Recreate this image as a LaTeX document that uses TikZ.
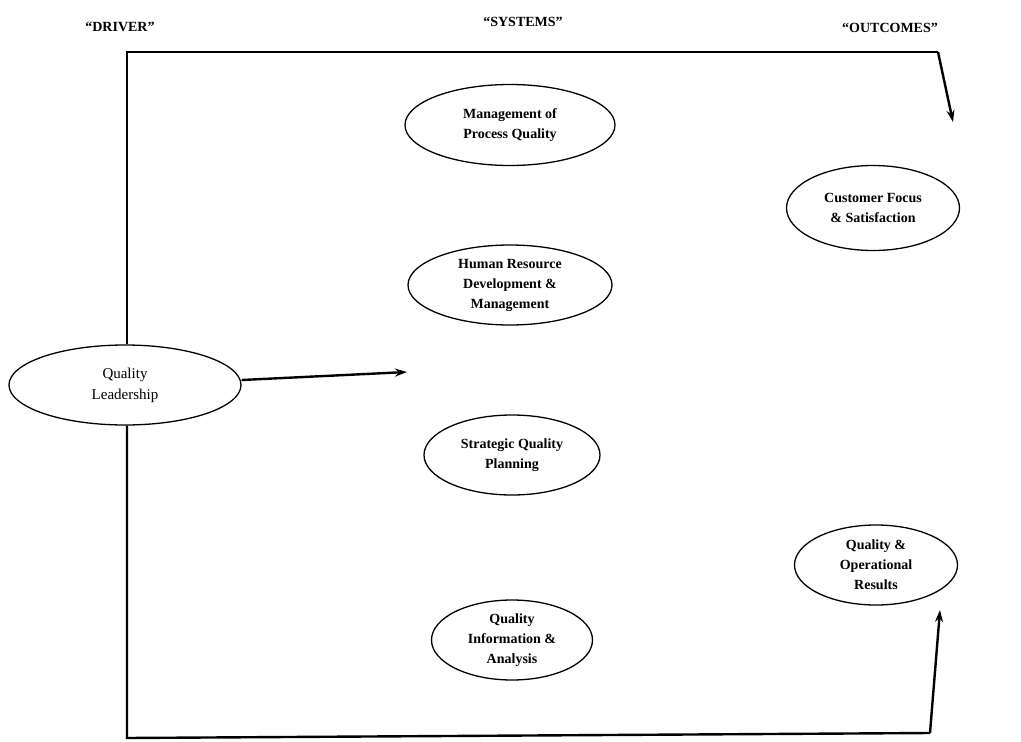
\documentclass[tikz,border=0pt]{standalone}
\usepackage{fontspec}
\setmainfont{Liberation Serif}
\usetikzlibrary{shapes.geometric,arrows.meta}
\begin{document}
\begin{tikzpicture}[x=1pt,y=-1pt,
  oval/.style={ellipse,draw,line width=1.3pt,minimum width=#1,inner sep=0pt,align=center,font=\fontsize{14}{20}\selectfont\bfseries},
  conn/.style={line width=2.4pt},
  arr/.style={line width=2.4pt,-{Stealth[length=12pt,width=8pt]}},
  head/.style={font=\fontsize{14}{16}\selectfont\bfseries}]
\useasboundingbox (0,0) rectangle (1021,742);
\node[head] (hd) at (120,27) {``DRIVER''};
\node[head] (hs) at (523,22) {``SYSTEMS''};
\node[head] (ho) at (890,28) {``OUTCOMES''};
\node[oval=232pt,minimum height=80pt,font=\fontsize{15}{21}\selectfont] (ql) at (125,385) {Quality\\Leadership};
\node[oval=210pt,minimum height=81pt] (mp) at (510,125) {Management of\\Process Quality};
\node[oval=204pt,minimum height=80pt] (hr) at (510,285) {Human Resource\\Development \&\\Management};
\node[oval=176pt,minimum height=80pt] (sq) at (512,455) {Strategic Quality\\Planning};
\node[oval=161pt,minimum height=80pt] (qi) at (512,640) {Quality\\Information \&\\Analysis};
\node[oval=173pt,minimum height=85pt] (cf) at (873,208) {Customer Focus\\\& Satisfaction};
\node[oval=163pt,minimum height=80pt] (qo) at (876,565) {Quality \&\\Operational\\Results};
\coordinate (tl) at (127,52);
\coordinate (tr) at (938,52);
\coordinate (ta) at (953,122);
\coordinate (bl) at (127,738);
\coordinate (br) at (930,733);
\coordinate (ba) at (940,610);
\coordinate (ma) at (407,372);
\draw[conn] (ql.north -| tl) -- (tl) -- (tr);
\draw[arr] (tr) -- (ta);
\draw[conn] (ql.south -| bl) -- (bl) -- (br);
\draw[arr] (br) -- (ba);
\draw[arr] (ql.east) ++(0,-5) -- (ma);
\end{tikzpicture}
\end{document}
